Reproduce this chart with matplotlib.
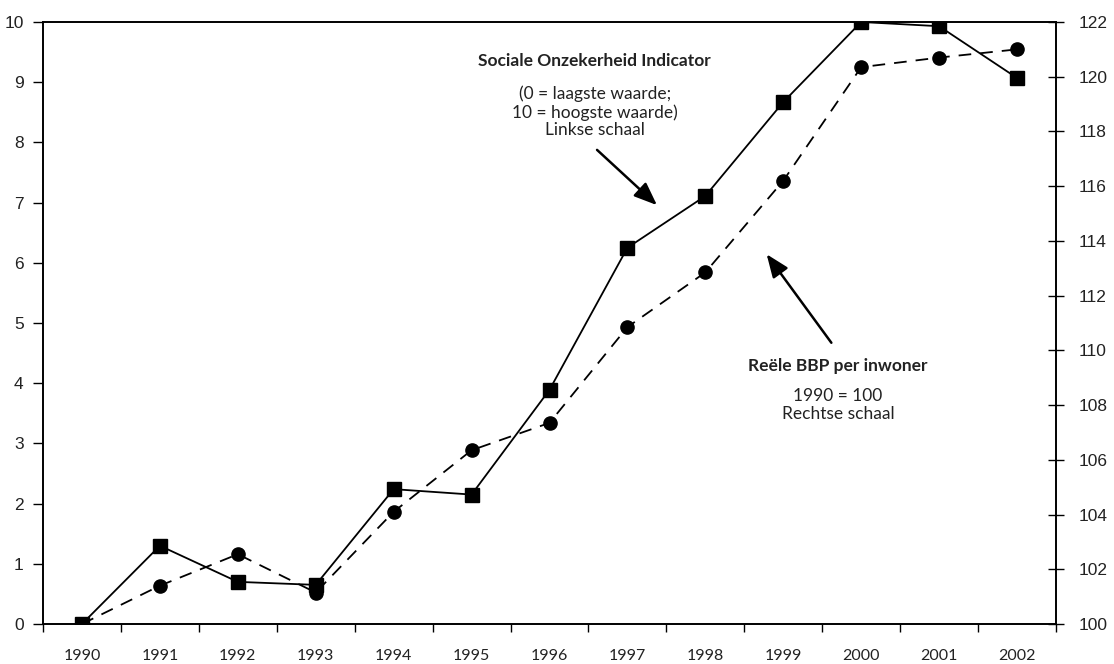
import matplotlib
matplotlib.use("Agg")
import matplotlib.pyplot as plt
import numpy as np

years = ["1990", "1991", "1992", "1993", "1994", "1995", "1996",
         "1997", "1998", "1999", "2000", "2001", "2002"]
indicator = [0.0, 1.3, 0.7, 0.65, 2.24, 2.15, 3.89, 6.25, 7.11, 8.67, 10.0, 9.93, 9.07]
bbp = [100.0, 101.4, 102.55, 101.15, 104.1, 106.35, 107.35, 110.85, 112.85, 116.2, 120.35, 120.7, 121.0]
left_ticks = list(range(0, 11))
right_ticks = list(range(100, 123, 2))

fig = plt.figure(figsize=(11.14, 6.64), dpi=100)
ax = fig.add_axes([43/1114, 1 - 624/664, (1056-43)/1114, (624-22)/664])
ax2 = ax.twinx()

x = np.arange(len(years)) + 0.5
ax.plot(x, indicator, color="black", lw=1.3, marker="s", ms=9.5, zorder=3)
ax2.plot(x, bbp, color="black", lw=1.3, ls=(0, (7, 5)), marker="o", ms=9.5, zorder=3)

ax.set_xlim(0, len(years))
ax.set_ylim(0, 10)
ax2.set_ylim(100, 122)
ax.set_xticks(np.arange(len(years) + 1))
ax.set_xticklabels([])
ax.set_xticks(x, minor=True)
ax.set_xticklabels(years, minor=True, fontfamily="Lato", fontsize=11.5, color="#222222")
ax.tick_params(axis="x", which="minor", length=0, pad=18)
ax.tick_params(axis="x", which="major", length=6, width=1, direction="out")
ax.set_yticks(left_ticks)
ax.set_yticklabels([str(t) for t in left_ticks], fontfamily="Liberation Sans", fontsize=12.5,
                   color="#222222")
ax.tick_params(axis="y", length=7, width=1, direction="out", pad=7)
ax2.set_yticks(right_ticks)
ax2.set_yticklabels([str(t) for t in right_ticks], fontfamily="Liberation Sans", fontsize=12.5,
                    color="#222222")
ax2.tick_params(axis="y", length=12, width=1, direction="inout", pad=10)

for a in (ax, ax2):
    for s in a.spines.values():
        s.set_linewidth(1.2)

def fx(px):
    return px / 1114

def fy(py):
    return 1 - py / 664

tcol = "#222222"
fig.text(fx(594), fy(61), "Sociale Onzekerheid Indicator", ha="center", va="center",
         fontfamily="Lato", fontweight="bold", fontsize=12.5, color=tcol)
fig.text(fx(595), fy(112), "(0 = laagste waarde;\n10 = hoogste waarde)\nLinkse schaal",
         ha="center", va="center", fontfamily="Lato", fontsize=12.5, linespacing=1.12, color=tcol)
fig.text(fx(838), fy(405), "1990 = 100\nRechtse schaal", ha="center", va="center",
         fontfamily="Lato", fontsize=12.5, linespacing=1.08, color=tcol)
fig.text(fx(838), fy(366), "Reële BBP per inwoner", ha="center", va="center",
         fontfamily="Lato", fontweight="bold", fontsize=12.5, color=tcol)

arrowprops = dict(arrowstyle="-|>,head_length=1.0,head_width=0.4", color="black", lw=1.8,
                  mutation_scale=14)
fig.add_artist(matplotlib.patches.FancyArrowPatch((fx(595), fy(148)), (fx(659), fy(207)),
               transform=fig.transFigure, **arrowprops))
fig.add_artist(matplotlib.patches.FancyArrowPatch((fx(833), fy(345)), (fx(765), fy(252)),
               transform=fig.transFigure, **arrowprops))

fig.savefig("out.png", dpi=100)
